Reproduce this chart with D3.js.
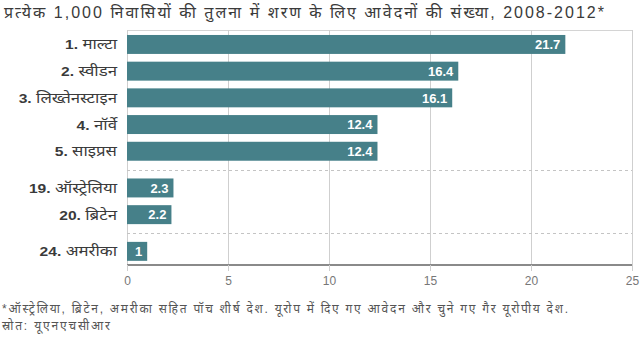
<!DOCTYPE html>
<html>
<head>
<meta charset="utf-8">
<script src="https://cdn.jsdelivr.net/npm/d3@7"></script>
<style>
  body { margin: 0; background: #fff; }
  svg { display: block; font-family: "Liberation Sans", Arial, "Noto Sans", sans-serif; }
</style>
</head>
<body>
<svg id="chart" width="640" height="338"></svg>
<script>
const categories = ["1. माल्टा", "2. स्वीडन", "3. लिख्तेनस्टाइन", "4. नॉर्वे", "5. साइप्रस", "19. ऑस्ट्रेलिया", "20. ब्रिटेन", "24. अमरीका"];
const values = [21.7, 16.4, 16.1, 12.4, 12.4, 2.3, 2.2, 1];
const groups = [0, 0, 0, 0, 0, 1, 1, 2];
const tickValues = [0, 5, 10, 15, 20, 25];
const title = "प्रत्येक 1,000 निवासियों की तुलना में शरण के लिए आवेदनों की संख्या, 2008-2012*";
const note = "*ऑस्ट्रेलिया, ब्रिटेन, अमरीका सहित पॉच शीर्ष देश. यूरोप में दिए गए आवेदन और चुने गए गैर यूरोपीय देश.";
const source = "स्रोत: यूएनएचसीआर";

(function () {
const svg = d3.select("#chart");
const plotLeft = 127, plotRight = 632, plotTop = 30, axisY = 265;
const groupGap = 10;

const x = d3.scaleLinear().domain([0, 25]).range([plotLeft, plotRight]);
const y = d3.scaleBand().domain(categories).range([31.1, 244.7]).paddingInner(0.29).paddingOuter(0.145);
const yPos = (d, i) => y(d) + groups[i] * groupGap;

// title
svg.append("text").attr("x", 4).attr("y", 18).attr("fill", "#3a3a3a")
  .attr("textLength", 600).attr("lengthAdjust", "spacing")
  .style("font-size", "16px").text(title);

// top border
svg.append("line").attr("x1", plotLeft).attr("x2", plotRight).attr("y1", plotTop + 0.5).attr("y2", plotTop + 0.5)
  .attr("stroke", "#d4d4d4").attr("stroke-width", 1);

// vertical gridlines
svg.append("g").selectAll("line").data(tickValues).join("line")
  .attr("x1", d => x(d) + 0.5).attr("x2", d => x(d) + 0.5)
  .attr("y1", plotTop).attr("y2", axisY + 6)
  .attr("stroke", "#cfcfcf").attr("stroke-width", 1);

// dashed separators between groups
const seps = [];
for (let i = 1; i < categories.length; i++) {
  if (groups[i] !== groups[i - 1]) {
    const a = yPos(categories[i - 1], i - 1) + y.bandwidth();
    const b = yPos(categories[i], i);
    seps.push((a + b) / 2);
  }
}
svg.append("g").selectAll("line").data(seps).join("line")
  .attr("x1", plotLeft).attr("x2", plotRight)
  .attr("y1", d => Math.round(d) + 0.5).attr("y2", d => Math.round(d) + 0.5)
  .attr("stroke", "#c4c4c4").attr("stroke-dasharray", "3,3");

// bars
svg.append("g").selectAll("rect").data(values).join("rect")
  .attr("x", x(0))
  .attr("y", (d, i) => yPos(categories[i], i))
  .attr("width", d => x(d) - x(0))
  .attr("height", y.bandwidth())
  .attr("fill", "#468089");

// value labels
svg.append("g").selectAll("text").data(values).join("text")
  .attr("x", d => x(d) - 5)
  .attr("y", (d, i) => yPos(categories[i], i) + y.bandwidth() / 2)
  .attr("dy", "0.36em")
  .attr("text-anchor", "end")
  .attr("fill", "#fff")
  .style("font-size", "13px").style("font-weight", "bold")
  .text(d => d);

// category labels: bold rank + regular name, slightly widened
const lbl = svg.append("g").selectAll("text").data(categories).join("text")
  .attr("x", 117)
  .attr("y", (d, i) => yPos(d, i) + y.bandwidth() / 2)
  .attr("dy", "0.36em")
  .attr("text-anchor", "end")
  .attr("fill", "#3a3a3a")
  .style("font-size", "14px");
lbl.append("tspan").style("font-weight", "bold").style("font-size", "13px").text(d => d.split(" ")[0] + " ");
lbl.append("tspan").text(d => d.split(" ").slice(1).join(" "));
lbl.each(function () {
  const w = this.getComputedTextLength();
  d3.select(this).attr("textLength", w * 1.2).attr("lengthAdjust", "spacingAndGlyphs");
});

// x axis
const axis = d3.axisBottom(x).tickValues(tickValues).tickSize(6).tickPadding(5).tickFormat(d3.format("d"));
const gx = svg.append("g").attr("transform", `translate(0,${axisY})`).call(axis);
gx.select(".domain").attr("stroke", "#8a8a8a").attr("stroke-width", 2).attr("d", `M${plotLeft},0H${plotRight}`);
gx.selectAll(".tick line").attr("stroke", "#cfcfcf");
gx.selectAll(".tick text").attr("fill", "#777").style("font-size", "12px")
  .style("font-family", "\"Liberation Sans\", Arial, sans-serif");

// footnotes
svg.append("text").attr("x", 2).attr("y", 313).attr("fill", "#555")
  .attr("textLength", 566).attr("lengthAdjust", "spacing")
  .style("font-size", "12px").text(note);
svg.append("text").attr("x", 2).attr("y", 330).attr("fill", "#555")
  .attr("textLength", 108).attr("lengthAdjust", "spacing")
  .style("font-size", "12px").text(source);
})();
</script>
</body>
</html>
